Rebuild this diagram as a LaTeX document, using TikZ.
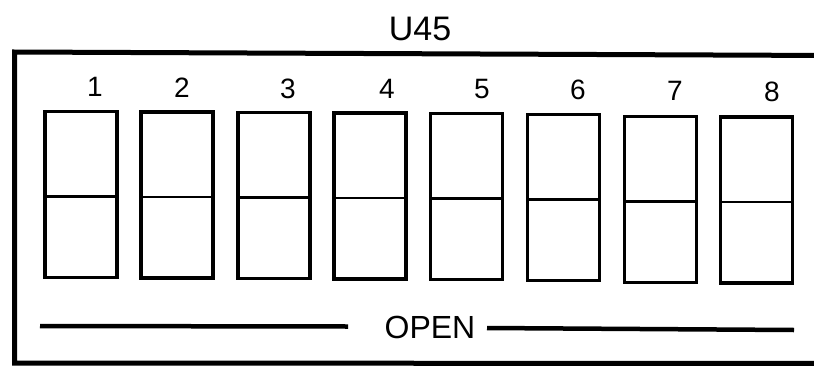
\documentclass[tikz,border=0pt]{standalone}
\usepackage{fontspec}
\setmainfont{Liberation Sans}
\begin{document}
\begin{tikzpicture}[x=1pt,y=-1pt,
  frame/.style={line width=5pt},
  swbox/.style={draw, line width=3.3pt, minimum width=72pt, minimum height=166pt, inner sep=0pt, outer sep=0pt},
  divider/.style={line width=2.7pt},
  num/.style={font=\fontsize{28}{30}\selectfont, inner sep=0pt},
  title/.style={font=\fontsize{34}{36}\selectfont, inner sep=0pt},
  bar/.style={line width=4.5pt}]
\useasboundingbox (0,0) rectangle (814,367);
\clip (0,0) rectangle (814,367);
\fill[white] (0,0) rectangle (814,367);
% outer frame
\draw[frame] (830,55.5) -- (14.5,52) -- (14.5,363) -- (830,363.5);
% title
\node[title] (title) at (420,29) {U45};
% switches
\foreach \i/\x/\y/\lx/\ly in {1/81/194.5/95/87, 2/177/195/182/88, 3/274/195.5/288/88.5, 4/370/196/387/89, 5/466.5/196.5/482/89.5, 6/563.5/197.5/578/90, 7/660.5/199.5/675/91, 8/756.5/200/772/92}{
  \node[swbox] (s\i) at (\x,\y) {};
  \draw[divider] ([yshift=-2pt]s\i.west) -- ([yshift=-2pt]s\i.east);
  \node[num] (n\i) at (\lx,\ly) {\i};
}
% OPEN legend
\node[font=\fontsize{32}{34}\selectfont, inner sep=0pt] (open) at (430,327) {OPEN};
\coordinate (la) at (40,326);
\coordinate (lb) at (348,326.5);
\coordinate (ra) at (487,328);
\coordinate (rb) at (794,330);
\draw[bar] (la) -- (lb);
\draw[bar] (ra) -- (rb);
\end{tikzpicture}
\end{document}
